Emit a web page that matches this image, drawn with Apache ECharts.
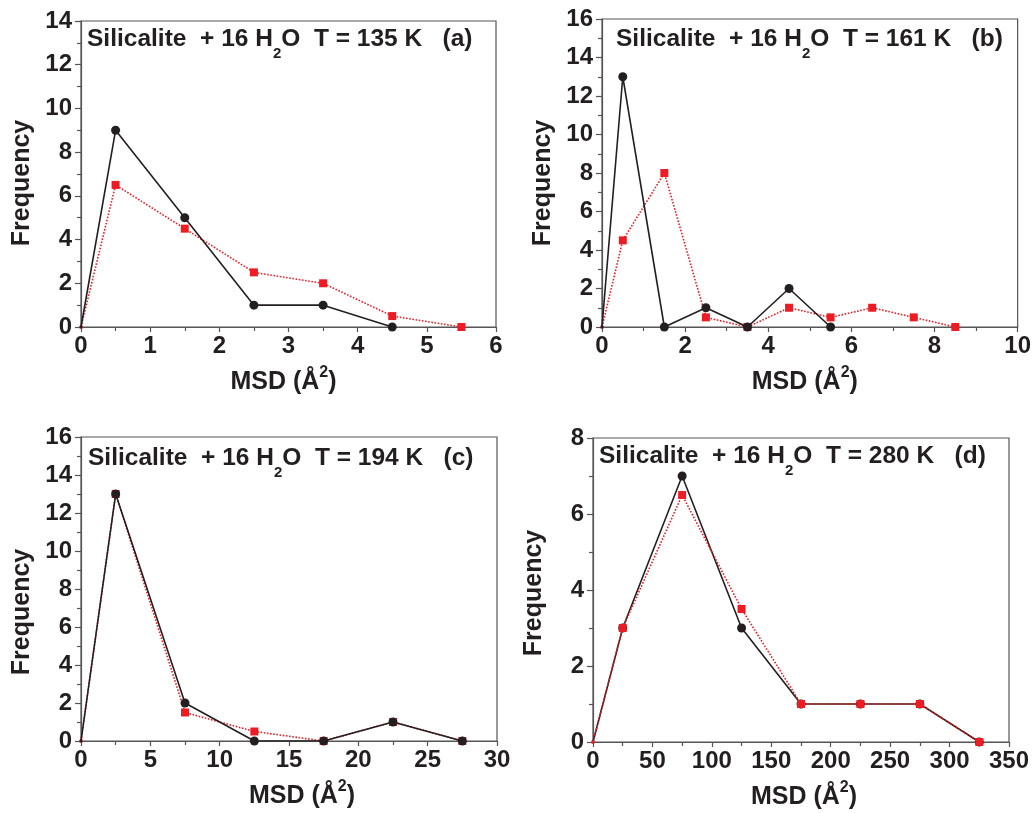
<!DOCTYPE html>
<html>
<head>
<meta charset="utf-8">
<script src="https://cdn.jsdelivr.net/npm/echarts@6/dist/echarts.min.js"></script>
<style>
html,body{margin:0;padding:0;background:#fff;}
#chart{width:1034px;height:813px;}
</style>
</head>
<body>
<div id="chart"></div>
<script>
// ---- Data ----
const msdA = [0, 0.5, 1.5, 2.5, 3.5, 4.5, 5.5];
const blackA = [0, 9, 5, 1, 1, 0];
const redA = [0, 6.5, 4.5, 2.5, 2, 0.5, 0];

const msdB = [0, 0.5, 1.5, 2.5, 3.5, 4.5, 5.5, 6.5, 7.5, 8.5];
const blackB = [0, 13, 0, 1, 0, 2, 0];
const redB = [0, 4.5, 8, 0.5, 0, 1, 0.5, 1, 0.5, 0];

const msdC = [0, 2.5, 7.5, 12.5, 17.5, 22.5, 27.5];
const blackC = [0, 13, 2, 0, 0, 1, 0];
const redC = [0, 13, 1.5, 0.5, 0, 1, 0];

const msdD = [0, 25, 75, 125, 175, 225, 275, 325];
const blackD = [0, 3, 7, 3, 1, 1, 1, 0];
const redD = [0, 3, 6.5, 3.5, 1, 1, 1, 0];

const titles = [
  ['Silicalite  + 16 H', '2', 'O  T = 135 K   (a)'],
  ['Silicalite  + 16 H', '2', 'O  T = 161 K   (b)'],
  ['Silicalite  + 16 H', '2', 'O  T = 194 K   (c)'],
  ['Silicalite  + 16 H', '2', 'O  T = 280 K   (d)']
];
const xRanges = [[0, 6, 1], [0, 10, 2], [0, 30, 5], [0, 350, 50]];
const yRanges = [[0, 14, 2], [0, 16, 2], [0, 16, 2], [0, 8, 2]];

// ---- Layout / styling ----
const FONT = '"Liberation Sans", Arial, Helvetica, sans-serif';
const TXT = '#231f20';
const AXC = '#555555';
const grids = [
  {left: 81, top: 21, width: 415, height: 306},
  {left: 602, top: 19, width: 417, height: 308},
  {left: 81, top: 437, width: 416, height: 304},
  {left: 593, top: 438, width: 416, height: 304}
];
const titlePos = [
  {left: 87, top: 18},
  {left: 616, top: 18},
  {left: 88, top: 437},
  {left: 599, top: 435}
];
// shift of axis-name centres relative to the plot centre (px, + = right / down)
const xNameShift = [-5, -5, 13, 3];
const yNameShift = [9, 10, 23, 3];

function pairs(xs, ys) { return ys.map((y, i) => [xs[i], y]); }

const series = [];
const xAxes = [], yAxes = [];
const gridOpts = [], titleOpts = [];
const datasets = [
  [msdA, blackA, redA],
  [msdB, blackB, redB],
  [msdC, blackC, redC],
  [msdD, blackD, redD]
];

for (let i = 0; i < 4; i++) {
  gridOpts.push(Object.assign({show: true, borderColor: AXC, borderWidth: 1.2, containLabel: false}, grids[i]));
  titleOpts.push({
    text: '{m|' + titles[i][0] + '}{s|' + titles[i][1] + '}{m|' + titles[i][2] + '}',
    left: titlePos[i].left, top: titlePos[i].top, padding: 0,
    textStyle: {
      rich: {
        m: {fontFamily: FONT, fontWeight: 'bold', fontSize: 24.5, color: TXT, lineHeight: 43, verticalAlign: 'middle'},
        s: {fontFamily: FONT, fontWeight: 'bold', fontSize: 15, color: TXT, lineHeight: 15, verticalAlign: 'bottom'}
      }
    }
  });
  const xr = xRanges[i], yr = yRanges[i];
  const xs = xNameShift[i], ys = yNameShift[i];
  xAxes.push({
    type: 'value', gridIndex: i, min: xr[0], max: xr[1], interval: xr[2],
    name: '{n|MSD (Å}{p|2}{n|)}', nameLocation: 'middle', nameGap: 38,
    nameTextStyle: {
      padding: xs >= 0 ? [0, 0, 0, 2 * xs] : [0, -2 * xs, 0, 0],
      rich: {
        n: {fontFamily: FONT, fontWeight: 'bold', fontSize: 25, color: TXT, lineHeight: 34, verticalAlign: 'middle'},
        p: {fontFamily: FONT, fontWeight: 'bold', fontSize: 16, color: TXT, lineHeight: 16, verticalAlign: 'top'}
      }
    },
    axisLine: {onZero: false, lineStyle: {color: AXC, width: 1.2}},
    axisTick: {show: true, inside: false, length: 5, lineStyle: {color: AXC, width: 1.2}},
    minorTick: {show: true, splitNumber: 2, length: 4, lineStyle: {color: AXC, width: 1.2}},
    splitLine: {show: false},
    axisLabel: {fontFamily: FONT, fontWeight: 'bold', fontSize: 24, color: TXT, margin: 7}
  });
  yAxes.push({
    type: 'value', gridIndex: i, min: yr[0], max: yr[1], interval: yr[2],
    name: 'Frequency', nameLocation: 'middle', nameGap: 46,
    nameTextStyle: {
      fontFamily: FONT, fontWeight: 'bold', fontSize: 25, color: TXT,
      padding: [0, 2 * ys, 0, 0]
    },
    axisLine: {onZero: false, lineStyle: {color: AXC, width: 1.2}},
    axisTick: {show: true, inside: false, length: 6, lineStyle: {color: AXC, width: 1.2}},
    minorTick: {show: true, splitNumber: 2, length: 4, lineStyle: {color: AXC, width: 1.2}},
    splitLine: {show: false},
    axisLabel: {fontFamily: FONT, fontWeight: 'bold', fontSize: 24, color: TXT, margin: 9}
  });
  const d = datasets[i];
  const redOnTop = (i === 3);
  const symSize = (big) => (val) => (val[0] === 0 ? 3 : big);
  series.push({
    type: 'line', xAxisIndex: i, yAxisIndex: i,
    data: pairs(d[0], d[1]),
    symbol: 'circle', symbolSize: symSize(9),
    lineStyle: {color: TXT, width: 1.6},
    itemStyle: {color: TXT},
    z: redOnTop ? 2 : 3, animation: false
  });
  series.push({
    type: 'line', xAxisIndex: i, yAxisIndex: i,
    data: pairs(d[0], d[2]),
    symbol: 'rect', symbolSize: symSize(8),
    lineStyle: {color: '#ed1c24', width: 1.6, type: 'dotted'},
    itemStyle: {color: '#ed1c24'},
    z: redOnTop ? 3 : 2, animation: false
  });
}

const chart = echarts.init(document.getElementById('chart'), null, {renderer: 'canvas'});
chart.setOption({
  backgroundColor: '#ffffff',
  animation: false,
  title: titleOpts,
  grid: gridOpts,
  xAxis: xAxes,
  yAxis: yAxes,
  series: series
});
</script>
</body>
</html>
